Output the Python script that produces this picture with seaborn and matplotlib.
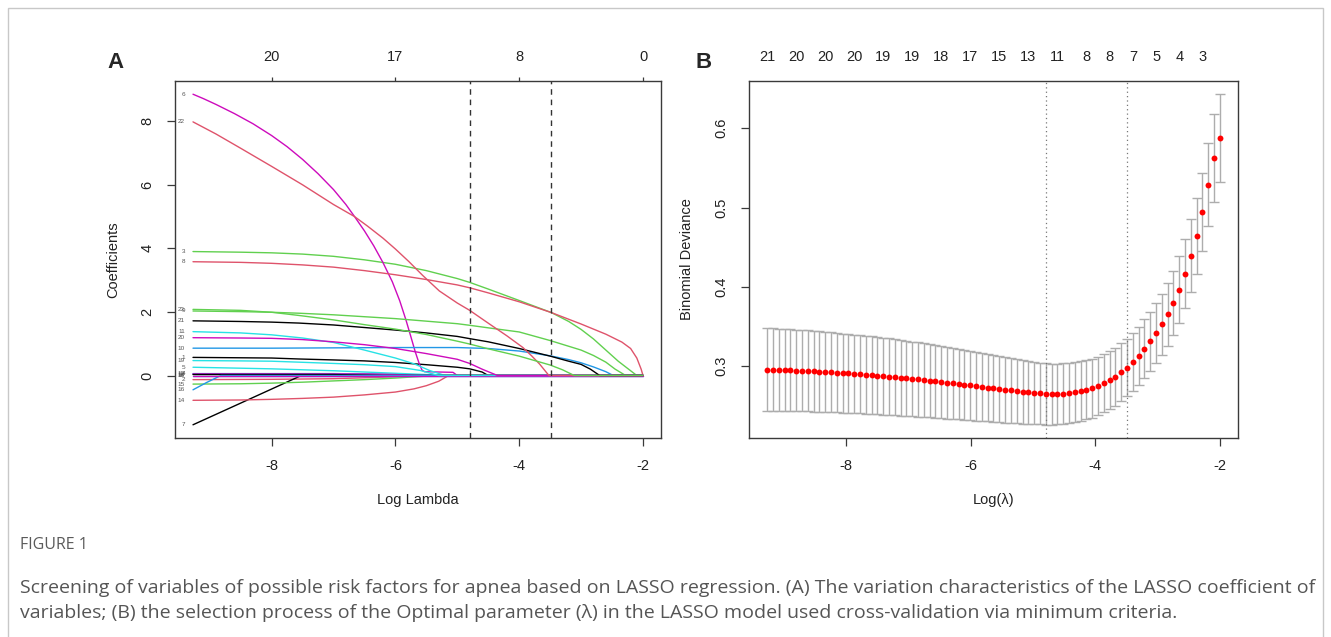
import numpy as np
import pandas as pd
import matplotlib
matplotlib.use("Agg")
import matplotlib.pyplot as plt
import seaborn as sns
from matplotlib.patches import Rectangle

sns.set_style("ticks")
plt.rcParams['font.family'] = ['Liberation Sans', 'DejaVu Sans']

# ---------------- Panel A: LASSO coefficient paths (log lambda, coefficient) ----------------
path_01 = [(-9.27, 0.57), (-8, 0.55), (-7.56, 0.52), (-7, 0.49), (-6.5, 0.46), (-6, 0.41), (-5.5, 0.34), (-5.0, 0.26), (-4.8, 0.21), (-4.6, 0.11), (-4.5, 0), (-2.0, 0)]
path_02 = [(-9.27, -0.13), (-8, -0.12), (-7, -0.10), (-6.5, -0.07), (-6, -0.04), (-5.7, 0), (-2.0, 0)]
path_03 = [(-9.27, 3.90), (-8.5, 3.88), (-8, 3.86), (-7.5, 3.82), (-7, 3.75), (-6.5, 3.64), (-6, 3.50), (-5.5, 3.30), (-5, 3.05), (-4.8, 2.93), (-4.5, 2.72), (-4, 2.36), (-3.48, 1.98), (-3.2, 1.70), (-3.0, 1.45), (-2.8, 1.15), (-2.6, 0.80), (-2.4, 0.45), (-2.2, 0.15), (-2.1, 0), (-2.0, 0)]
path_04 = [(-9.27, 0.06), (-7, 0.06), (-6, 0.04), (-5.6, 0), (-2.0, 0)]
path_05 = [(-9.27, 0.26), (-8.5, 0.23), (-8, 0.21), (-7.5, 0.18), (-7, 0.15), (-6.5, 0.11), (-6, 0.07), (-5.5, 0.03), (-5.25, 0), (-2.0, 0)]
path_06 = [(-9.27, 8.85), (-9.1, 8.71), (-8.9, 8.53), (-8.6, 8.24), (-8.3, 7.92), (-8.0, 7.55), (-7.75, 7.2), (-7.5, 6.8), (-7.25, 6.35), (-7.0, 5.85), (-6.8, 5.38), (-6.66, 5.00), (-6.5, 4.55), (-6.35, 4.08), (-6.2, 3.55), (-6.05, 2.95), (-5.93, 2.35), (-5.83, 1.75), (-5.75, 1.22), (-5.68, 0.75), (-5.62, 0.40), (-5.57, 0.17), (-5.53, 0.12), (-5.3, 0.11), (-5.07, 0.10), (-5.0, 0), (-2.0, 0)]
path_07 = [(-9.27, -1.55), (-8.4, -0.78), (-7.52, 0), (-2.0, 0)]
path_08 = [(-9.27, 3.58), (-8.5, 3.56), (-8, 3.53), (-7.5, 3.48), (-7, 3.41), (-6.5, 3.30), (-6, 3.17), (-5.5, 3.02), (-5, 2.85), (-4.8, 2.76), (-4.5, 2.60), (-4, 2.32), (-3.48, 1.98), (-3.0, 1.62), (-2.6, 1.30), (-2.34, 1.05), (-2.2, 0.85), (-2.1, 0.55), (-2.03, 0.20), (-2.0, 0)]
path_09 = [(-9.27, 2.03), (-8.5, 2.01), (-8, 1.99), (-7.56, 1.96), (-7, 1.91), (-6.5, 1.85), (-6, 1.79), (-5.5, 1.71), (-5, 1.63), (-4.8, 1.58), (-4.5, 1.50), (-4, 1.37), (-3.5, 1.10), (-3.0, 0.80), (-2.8, 0.63), (-2.6, 0.42), (-2.45, 0.20), (-2.28, 0), (-2.0, 0)]
path_10 = [(-9.27, 0.86), (-8, 0.86), (-7, 0.87), (-6, 0.88), (-5, 0.88), (-4.5, 0.85), (-4, 0.77), (-3.5, 0.62), (-3.2, 0.50), (-3.0, 0.40), (-2.8, 0.27), (-2.6, 0.12), (-2.48, 0), (-2.0, 0)]
path_11 = [(-9.27, 1.38), (-8.5, 1.34), (-8, 1.28), (-7.5, 1.18), (-7, 1.04), (-6.5, 0.80), (-6, 0.55), (-5.7, 0.37), (-5.45, 0.16), (-5.2, 0), (-2.0, 0)]
path_12 = [(-9.27, 0.05), (-6.5, 0.05), (-6.0, 0.03), (-5.6, 0), (-2.0, 0)]
path_13 = [(-9.27, 0.03), (-7, 0.03), (-6.2, 0), (-2.0, 0)]
path_14 = [(-9.27, -0.78), (-8.5, -0.77), (-8, -0.75), (-7.5, -0.72), (-7, -0.68), (-6.5, -0.61), (-6, -0.52), (-5.7, -0.42), (-5.5, -0.32), (-5.3, -0.18), (-5.14, 0), (-2.0, 0)]
path_15 = [(-9.27, -0.27), (-8.5, -0.26), (-8, -0.24), (-7.5, -0.21), (-7, -0.17), (-6.5, -0.13), (-6, -0.08), (-5.6, -0.03), (-5.3, 0), (-2.0, 0)]
path_16 = [(-9.27, -0.45), (-9.05, -0.22), (-8.82, 0), (-2.0, 0)]
path_17 = [(-9.27, 0), (-2.0, 0)]
path_18 = [(-9.27, 0), (-2.0, 0)]
path_19 = [(-9.27, 0.47), (-8.5, 0.46), (-8, 0.45), (-7.56, 0.42), (-7, 0.38), (-6.5, 0.34), (-6, 0.28), (-5.6, 0.16), (-5.3, 0), (-2.0, 0)]
path_20 = [(-9.27, 1.19), (-8.5, 1.18), (-8, 1.17), (-7.5, 1.13), (-7, 1.06), (-6.5, 0.97), (-6, 0.85), (-5.5, 0.69), (-5, 0.51), (-4.8, 0.38), (-4.6, 0.20), (-4.35, 0), (-2.0, 0)]
path_21 = [(-9.27, 1.72), (-8.5, 1.70), (-8, 1.68), (-7.56, 1.65), (-7, 1.59), (-6.5, 1.51), (-6, 1.43), (-5.5, 1.34), (-5, 1.23), (-4.8, 1.16), (-4.5, 1.06), (-4, 0.85), (-3.5, 0.61), (-3.2, 0.45), (-3.0, 0.35), (-2.85, 0.20), (-2.7, 0), (-2.0, 0)]
path_22 = [(-9.27, 7.98), (-8.9, 7.60), (-8.5, 7.15), (-8, 6.58), (-7.5, 6.00), (-7, 5.38), (-6.66, 5.00), (-6.45, 4.70), (-6.2, 4.32), (-6, 3.98), (-5.78, 3.58), (-5.56, 3.15), (-5.29, 2.66), (-5, 2.28), (-4.8, 2.05), (-4.48, 1.62), (-4.2, 1.25), (-3.94, 0.88), (-3.8, 0.62), (-3.67, 0.36), (-3.52, 0), (-2.0, 0)]
path_23 = [(-9.27, 2.08), (-8.5, 2.05), (-8, 1.99), (-7.56, 1.89), (-7, 1.75), (-6.5, 1.60), (-6, 1.46), (-5.5, 1.29), (-5, 1.08), (-4.8, 0.99), (-4.5, 0.84), (-4, 0.61), (-3.5, 0.33), (-3.3, 0.18), (-3.11, 0), (-2.0, 0)]

coef_paths = [path_01, path_02, path_03, path_04, path_05, path_06, path_07, path_08,
              path_09, path_10, path_11, path_12, path_13, path_14, path_15, path_16,
              path_17, path_18, path_19, path_20, path_21, path_22, path_23]
var_labels = [str(i) for i in range(1, 24)]

# R default palette (col = 1:6 cycling)
r_black, r_red, r_green, r_blue, r_cyan, r_magenta = "#000000", "#DF536B", "#61D04F", "#2297E6", "#28E2E5", "#CD0BBC"
var_colors = [r_black, r_red, r_green, r_blue, r_cyan, r_magenta,
              r_black, r_red, r_green, r_blue, r_cyan, r_magenta,
              r_black, r_red, r_green, r_blue, r_cyan, r_magenta,
              r_cyan, r_magenta, r_black, r_red, r_green]

top_ticks_A = [-8, -6, -4, -2]
top_labels_A = ["20", "17", "8", "0"]

# ---------------- Panel B: cross-validation curve ----------------
log_lambda = np.linspace(-9.27, -2.0, 79)   # regular glmnet lambda grid (log scale)
cv_mean = [0.2955, 0.2953, 0.2951, 0.2949, 0.2946, 0.2943, 0.2940, 0.2937, 0.2933, 0.2929,
           0.2925, 0.2921, 0.2916, 0.2911, 0.2906, 0.2901, 0.2896, 0.2890, 0.2884, 0.2878,
           0.2872, 0.2865, 0.2858, 0.2851, 0.2844, 0.2837, 0.2830, 0.2822, 0.2814, 0.2806,
           0.2798, 0.2790, 0.2781, 0.2772, 0.2763, 0.2754, 0.2745, 0.2736, 0.2727, 0.2718,
           0.2709, 0.2700, 0.2692, 0.2684, 0.2676, 0.2668, 0.2660, 0.2653, 0.2645, 0.2646,
           0.2648, 0.2652, 0.2659, 0.2669, 0.2682, 0.2699, 0.2720, 0.2748, 0.2781, 0.2820,
           0.2866, 0.2920, 0.2980, 0.3050, 0.3130, 0.3216, 0.3312, 0.3414, 0.3525, 0.3650,
           0.3795, 0.3963, 0.4166, 0.4393, 0.4642, 0.4947, 0.5290, 0.5620, 0.5874]
cv_sd = [0.0525, 0.0523, 0.0521, 0.0519, 0.0517, 0.0515, 0.0513, 0.0511, 0.0509, 0.0507,
         0.0505, 0.0503, 0.0501, 0.0499, 0.0497, 0.0495, 0.0493, 0.0491, 0.0489, 0.0487,
         0.0485, 0.0483, 0.0480, 0.0477, 0.0474, 0.0471, 0.0468, 0.0465, 0.0462, 0.0459,
         0.0456, 0.0453, 0.0450, 0.0446, 0.0442, 0.0438, 0.0434, 0.0430, 0.0426, 0.0422,
         0.0418, 0.0414, 0.0410, 0.0406, 0.0402, 0.0398, 0.0394, 0.0390, 0.0387, 0.0385,
         0.0383, 0.0381, 0.0379, 0.0377, 0.0375, 0.0373, 0.0371, 0.0369, 0.0367, 0.0366,
         0.0365, 0.0365, 0.0365, 0.0366, 0.0368, 0.0371, 0.0375, 0.0380, 0.0387, 0.0396,
         0.0407, 0.0420, 0.0440, 0.0460, 0.0478, 0.0492, 0.0520, 0.0555, 0.0556]
nz_label_index = [0, 5, 10, 15, 20, 25, 30, 35, 40, 45, 50, 55, 59, 63, 67, 71, 75]
nz_labels = ["21", "20", "20", "20", "19", "19", "18", "17", "15", "13", "11", "8", "8", "7", "5", "4", "3"]
idx_lambda_min = 48
idx_lambda_1se = 62

caption_title = "FIGURE 1"
caption_line1 = ("Screening of variables of possible risk factors for apnea based on LASSO regression. "
                 "(A) The variation characteristics of the LASSO coefficient of")
caption_line2 = ("variables; (B) the selection process of the Optimal parameter (\u03bb) in the LASSO model "
                 "used cross-validation via minimum criteria.")

# ---------------- figure ----------------
W, H = 1331, 637
fig = plt.figure(figsize=(W / 100, H / 100), dpi=100)
axA = fig.add_axes([175 / W, 1 - 438 / H, 486 / W, 357 / H])
axB = fig.add_axes([749 / W, 1 - 438 / H, 489 / W, 357 / H])

frame_col = "#3a3a3a"
for ax in (axA, axB):
    for s in ax.spines.values():
        s.set_color(frame_col)
        s.set_linewidth(1.0)
        s.set_visible(True)
    ax.tick_params(axis="both", direction="out", length=6, width=0.9, color=frame_col,
                   labelsize=10.5, labelcolor="#222222")
    ax.tick_params(axis="x", pad=9)
    ax.tick_params(axis="y", labelrotation=90, pad=9)

# Panel A
rows = []
for lab, path in zip(var_labels, coef_paths):
    for x, y in path:
        rows.append({"var": lab, "x": x, "y": y})
dfA = pd.DataFrame(rows)
palette = dict(zip(var_labels, var_colors))
sns.lineplot(data=dfA, x="x", y="y", hue="var", hue_order=var_labels, palette=palette,
             estimator=None, sort=False, legend=False, linewidth=1.0, ax=axA)
for lab, path in zip(var_labels, coef_paths):
    x0, y0 = path[0]
    axA.text(x0 - 0.13, y0, lab, ha="right", va="center", fontsize=4.6, color="#555555")

for idx in (idx_lambda_min, idx_lambda_1se):
    axA.axvline(log_lambda[idx], color="#333333", lw=1.0, ls=(0, (4, 3.5)))

all_y = [y for p in coef_paths for _, y in p]
xr = log_lambda[-1] - log_lambda[0]
axA.set_xlim(log_lambda[0] - 0.04 * xr, log_lambda[-1] + 0.04 * xr)
yr = max(all_y) - min(all_y)
axA.set_ylim(min(all_y) - 0.04 * yr, max(all_y) + 0.04 * yr)
axA.set_xticks([-8, -6, -4, -2])
axA.set_xticklabels(["-8", "-6", "-4", "-2"])
axA.set_yticks([0, 2, 4, 6, 8])
axA.set_yticklabels(["0", "2", "4", "6", "8"], rotation=90, va="center")
axA.set_xlabel("Log Lambda", fontsize=10.5, color="#222222")
axA.set_ylabel("Coefficients", fontsize=10.5, color="#222222")
axA.xaxis.set_label_coords(0.5, -0.155)
axA.yaxis.set_label_coords(-0.112, 0.5)
secA = axA.secondary_xaxis("top")
secA.set_xticks(top_ticks_A)
secA.set_xticklabels(top_labels_A)
secA.tick_params(length=3, width=0.9, color=frame_col, labelsize=10.5, labelcolor="#222222", pad=9.5)
secA.spines["top"].set_visible(False)

# Panel B
cv_mean_arr = np.array(cv_mean)
cv_sd_arr = np.array(cv_sd)
axB.errorbar(log_lambda, cv_mean_arr, yerr=cv_sd_arr, fmt="none", ecolor="#adadad",
             elinewidth=1.0, capsize=3.3, capthick=1.0, zorder=2)
sns.scatterplot(x=log_lambda, y=cv_mean_arr, color="#ff0000", s=18, linewidth=0, ax=axB, zorder=3)
for idx in (idx_lambda_min, idx_lambda_1se):
    axB.axvline(log_lambda[idx], color="#777777", lw=0.9, ls=(0, (1, 2.5)))
lo = (cv_mean_arr - cv_sd_arr).min()
hi = (cv_mean_arr + cv_sd_arr).max()
axB.set_xlim(log_lambda[0] - 0.04 * xr, log_lambda[-1] + 0.04 * xr)
axB.set_ylim(lo - 0.04 * (hi - lo), hi + 0.04 * (hi - lo))
axB.set_xticks([-8, -6, -4, -2])
axB.set_xticklabels(["-8", "-6", "-4", "-2"])
axB.set_yticks([0.3, 0.4, 0.5, 0.6])
axB.set_yticklabels(["0.3", "0.4", "0.5", "0.6"], rotation=90, va="center")
axB.set_xlabel("Log(\u03bb)", fontsize=10.5, color="#222222")
axB.set_ylabel("Binomial Deviance", fontsize=10.5, color="#222222")
axB.xaxis.set_label_coords(0.5, -0.155)
axB.yaxis.set_label_coords(-0.112, 0.5)
secB = axB.secondary_xaxis("top")
secB.set_xticks([log_lambda[i] for i in nz_label_index])
secB.set_xticklabels(nz_labels)
secB.tick_params(length=0, labelsize=10.5, labelcolor="#222222", pad=12.5)
secB.spines["top"].set_visible(False)

# Panel letters
fig.text(116 / W, 1 - 63 / H, "A", fontsize=16, fontweight="bold", ha="center", va="center")
fig.text(704 / W, 1 - 63 / H, "B", fontsize=16, fontweight="bold", ha="center", va="center")

# Caption
cap_font = ["Open Sans", "DejaVu Sans"]
fig.text(20 / W, 1 - 545 / H, caption_title, fontsize=11.5, color="#5a5a5a", family=cap_font, va="center")
fig.text(20 / W, 1 - 588 / H, caption_line1, fontsize=14.0, color="#555555", family=cap_font, va="center")
fig.text(20 / W, 1 - 613 / H, caption_line2, fontsize=14.0, color="#555555", family=cap_font, va="center")

# outer frame
fig.add_artist(Rectangle((8 / W, -0.05), (1323 - 8) / W, 1.05 - 8 / H, transform=fig.transFigure,
                         fill=False, edgecolor="#c8c8c8", linewidth=1.0))

fig.savefig("out.png", dpi=100)
